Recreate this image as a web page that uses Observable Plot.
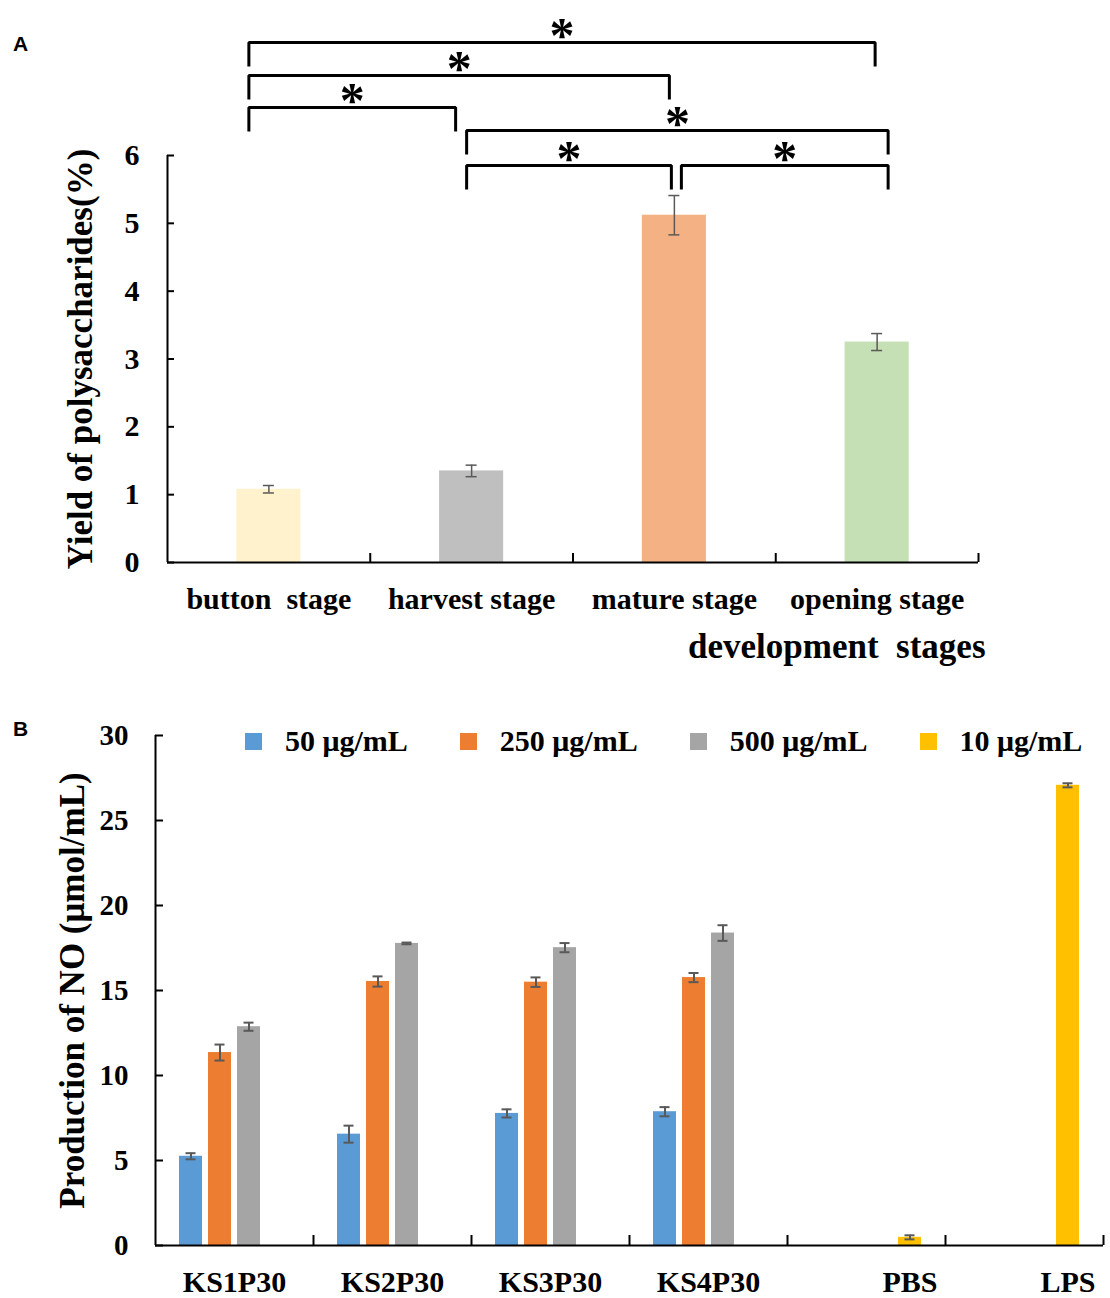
<!DOCTYPE html>
<html><head><meta charset="utf-8">
<script src="https://cdn.jsdelivr.net/npm/d3@7"></script>
<script src="https://cdn.jsdelivr.net/npm/@observablehq/plot@0.6"></script>
<style>
html,body{margin:0;padding:0;background:#fff;overflow:hidden;}
#wrap{position:relative;width:1110px;height:1298px;font-family:"Liberation Serif","Times New Roman",serif;font-weight:bold;}
#wrap svg{position:absolute;left:0;}
.tag{position:absolute;font-family:"Liberation Sans",Arial,sans-serif;font-weight:bold;font-size:21px;line-height:21px;}
#legendB{position:absolute;left:245px;top:726px;display:flex;align-items:center;gap:52px;font-size:30px;line-height:30px;}
.item{display:flex;align-items:center;}
.sw{width:17px;height:17px;margin-right:23px;}
</style></head>
<body><div id="wrap"></div>
<script>
// ---------------- DATA ----------------
// Panel A
const stages = ["button  stage", "harvest stage", "mature stage", "opening stage"];
const yieldMean = [1.08, 1.35, 5.12, 3.25];
const yieldErr = [0.055, 0.085, 0.29, 0.125];
const stageColors = ["#FFF2CC", "#BFBFBF", "#F4B183", "#C5E0B4"];
const yTicksA = [0, 1, 2, 3, 4, 5, 6];
const comparisons = [
  ["button  stage", "opening stage"],
  ["button  stage", "mature stage"],
  ["button  stage", "harvest stage"],
  ["harvest stage", "opening stage"],
  ["harvest stage", "mature stage"],
  ["mature stage", "opening stage"]
];
const xTitleA = "development  stages";
const yTitleA = "Yield of polysaccharides(%)";

// Panel B
const samples = ["KS1P30", "KS2P30", "KS3P30", "KS4P30", "PBS", "LPS"];
const doses = ["50 μg/mL", "250 μg/mL", "500 μg/mL", "10 μg/mL"];
const doseColors = ["#5B9BD5", "#ED7D31", "#A5A5A5", "#FFC000"];
const no50  = [5.25, 6.55, 7.77, 7.87, null, null];
const no250 = [11.35, 15.53, 15.49, 15.76, null, null];
const no500 = [12.87, 17.77, 17.52, 18.38, null, null];
const no10  = [null, null, null, null, 0.48, 27.07];
const err50  = [0.18, 0.50, 0.24, 0.27, null, null];
const err250 = [0.47, 0.30, 0.28, 0.27, null, null];
const err500 = [0.24, 0.05, 0.27, 0.46, null, null];
const err10  = [null, null, null, null, 0.12, 0.12];
const yTicksB = [0, 5, 10, 15, 20, 25, 30];
const yTitleB = "Production of NO (μmol/mL)";

// ---------------- LAYOUT / STYLE ----------------
const W = 1110;
const FONT = '"Liberation Serif", "Times New Roman", serif';
const ERR = "#595959";
const wrap = document.getElementById("wrap");

// ---- Panel A ----
const LA = {height: 680, top: 0, ml: 167, mr: 132, mt: 155, mb: 118};
const bottomA = LA.height - LA.mb;
const pxA = (LA.height - LA.mt - LA.mb) / 6;
const stepA = (W - LA.ml - LA.mr) / stages.length;
const toYA = px => (bottomA - px) / pxA;
const barHalfA = 0.158, capA = 5.5 / stepA;
// bracket layout (pixel rows and end offsets)
const bracketLinePx = [42, 75, 107, 130, 165, 165];
const bracketEndPx = [[-20, -2], [-20, -5], [-20, -16], [-5, 11], [-5, -3], [7, 11]];
const legPx = 24, starGapPx = 18;

const rowsA = stages.map((stage, i) => ({stage, i, mean: yieldMean[i], err: yieldErr[i]}));
const idx = s => stages.indexOf(s);
const brackets = comparisons.map(([a, b], k) => ({
  k,
  xa: idx(a) + bracketEndPx[k][0] / stepA,
  xb: idx(b) + bracketEndPx[k][1] / stepA,
  yLine: toYA(bracketLinePx[k]),
  yLeg: toYA(bracketLinePx[k] + legPx),
  yStar: toYA(bracketLinePx[k] - starGapPx)
}));
const bracketPts = brackets.flatMap(b => [
  {k: b.k, x: b.xa, y: b.yLeg}, {k: b.k, x: b.xa, y: b.yLine},
  {k: b.k, x: b.xb, y: b.yLine}, {k: b.k, x: b.xb, y: b.yLeg}
]);
const x0A = -0.5, x1A = stages.length - 0.5;

const chartA = Plot.plot({
  width: W, height: LA.height,
  marginLeft: LA.ml, marginRight: LA.mr, marginTop: LA.mt, marginBottom: LA.mb,
  x: {type: "linear", domain: [x0A, x1A], axis: null},
  y: {domain: [0, 6], axis: null},
  color: {domain: stages, range: stageColors},
  style: {fontFamily: FONT, fontWeight: "bold", background: "white", overflow: "visible", color: "black"},
  marks: [
    Plot.rectY(rowsA, {x1: d => d.i - barHalfA, x2: d => d.i + barHalfA, y1: 0, y2: "mean", fill: "stage"}),
    Plot.ruleX(rowsA, {x: "i", y1: d => d.mean - d.err, y2: d => d.mean + d.err, stroke: ERR, strokeWidth: 1.5}),
    Plot.ruleY(rowsA, {y: d => d.mean + d.err, x1: d => d.i - capA, x2: d => d.i + capA, stroke: ERR, strokeWidth: 1.5}),
    Plot.ruleY(rowsA, {y: d => d.mean - d.err, x1: d => d.i - capA, x2: d => d.i + capA, stroke: ERR, strokeWidth: 1.5}),
    Plot.ruleX([x0A], {y1: 0, y2: 6, stroke: "#000", strokeWidth: 2}),
    Plot.ruleY([0], {x1: x0A, x2: x1A, stroke: "#000", strokeWidth: 2}),
    Plot.ruleY(yTicksA, {x1: x0A, x2: x0A + 7 / stepA, stroke: "#000", strokeWidth: 2}),
    Plot.ruleX(rowsA, {x: d => d.i + 0.5, y1: 0, y2: 9 / pxA, stroke: "#000", strokeWidth: 2}),
    Plot.axisY({ticks: yTicksA, tickFormat: d => String(d), tickSize: 0, tickPadding: 28, fontSize: 30, label: null}),
    Plot.text(rowsA, {x: "i", y: 0, text: "stage", dy: 37, fontSize: 30}),
    Plot.text([xTitleA], {frameAnchor: "bottom-right", text: d => d, textAnchor: "end", lineAnchor: "middle", dx: 7, dy: 84, fontSize: 35}),
    Plot.text([yTitleA], {frameAnchor: "left", text: d => d, textAnchor: "middle", lineAnchor: "middle", rotate: -90, dx: -87, fontSize: 35}),
    Plot.line(bracketPts, {x: "x", y: "y", z: "k", stroke: "#000", strokeWidth: 3, strokeLinejoin: "miter", strokeLinecap: "butt"}),
    Plot.text(brackets, {x: d => (d.xa + d.xb) / 2, y: "yStar", text: () => "*", fontSize: 50, dy: 11})
  ]
});
chartA.style.top = LA.top + "px";
wrap.appendChild(chartA);

// ---- Panel B ----
const LB = {height: 608, top: 690, ml: 155, mr: 7, mt: 45, mb: 53};
const pxB = (LB.height - LB.mt - LB.mb) / 30;
const stepB = (W - LB.ml - LB.mr) / samples.length;
const slotB = 29 / stepB, barHalfB = 11.5 / stepB, capB = 5 / stepB;
const seriesVals = [no50, no250, no500, no10];
const seriesErr = [err50, err250, err500, err10];
const rowsB = samples.flatMap((sample, i) => doses.map((dose, j) => ({
  sample, i, dose, j, v: seriesVals[j][i], e: seriesErr[j][i],
  x: i + 0.5 + (j - (doses.length - 1) / 2) * slotB
}))).filter(r => r.v != null);
const labelsB = samples.map((sample, i) => {
  const present = rowsB.filter(r => r.i === i);
  return {sample, x: present.length === 1 ? present[0].x : i + 0.5};
});

const chartB = Plot.plot({
  width: W, height: LB.height,
  marginLeft: LB.ml, marginRight: LB.mr, marginTop: LB.mt, marginBottom: LB.mb,
  x: {type: "linear", domain: [0, samples.length], axis: null},
  y: {domain: [0, 30], axis: null},
  color: {domain: doses, range: doseColors},
  style: {fontFamily: FONT, fontWeight: "bold", background: "white", overflow: "visible", color: "black"},
  marks: [
    Plot.rectY(rowsB, {x1: d => d.x - barHalfB, x2: d => d.x + barHalfB, y1: 0, y2: "v", fill: "dose"}),
    Plot.ruleX(rowsB, {x: "x", y1: d => d.v - d.e, y2: d => d.v + d.e, stroke: ERR, strokeWidth: 2}),
    Plot.ruleY(rowsB, {y: d => d.v + d.e, x1: d => d.x - capB, x2: d => d.x + capB, stroke: ERR, strokeWidth: 2}),
    Plot.ruleY(rowsB, {y: d => d.v - d.e, x1: d => d.x - capB, x2: d => d.x + capB, stroke: ERR, strokeWidth: 2}),
    Plot.ruleX([0], {y1: 0, y2: 30, stroke: "#000", strokeWidth: 2}),
    Plot.ruleY([0], {x1: 0, x2: samples.length, stroke: "#000", strokeWidth: 2}),
    Plot.ruleY(yTicksB, {x1: 0, x2: 8 / stepB, stroke: "#000", strokeWidth: 2}),
    Plot.ruleX(samples.map((s, i) => i + 1), {y1: 0, y2: 10 / pxB, stroke: "#000", strokeWidth: 2}),
    Plot.axisY({ticks: yTicksB, tickFormat: d => String(d), tickSize: 0, tickPadding: 27, fontSize: 29, label: null}),
    Plot.text(labelsB, {x: "x", y: 0, text: "sample", dy: 37, fontSize: 30}),
    Plot.text([yTitleB], {frameAnchor: "left", text: d => d, textAnchor: "middle", lineAnchor: "middle", rotate: -90, dx: -83, fontSize: 35})
  ]
});
chartB.style.top = LB.top + "px";
wrap.appendChild(chartB);

// preserve double spaces in labels
wrap.querySelectorAll("text").forEach(t => t.setAttributeNS("http://www.w3.org/XML/1998/namespace", "xml:space", "preserve"));

// ---- Legend B ----
const legend = document.createElement("div");
legend.id = "legendB";
doses.forEach((d, j) => {
  const item = document.createElement("div");
  item.className = "item";
  const sw = document.createElement("div");
  sw.className = "sw";
  sw.style.background = doseColors[j];
  const lab = document.createElement("span");
  lab.textContent = d;
  item.appendChild(sw); item.appendChild(lab);
  legend.appendChild(item);
});
wrap.appendChild(legend);

// ---- Panel tags ----
[["A", 33], ["B", 718]].forEach(([t, top]) => {
  const el = document.createElement("div");
  el.className = "tag";
  el.textContent = t;
  el.style.left = "13px";
  el.style.top = top + "px";
  wrap.appendChild(el);
});
</script></body></html>
